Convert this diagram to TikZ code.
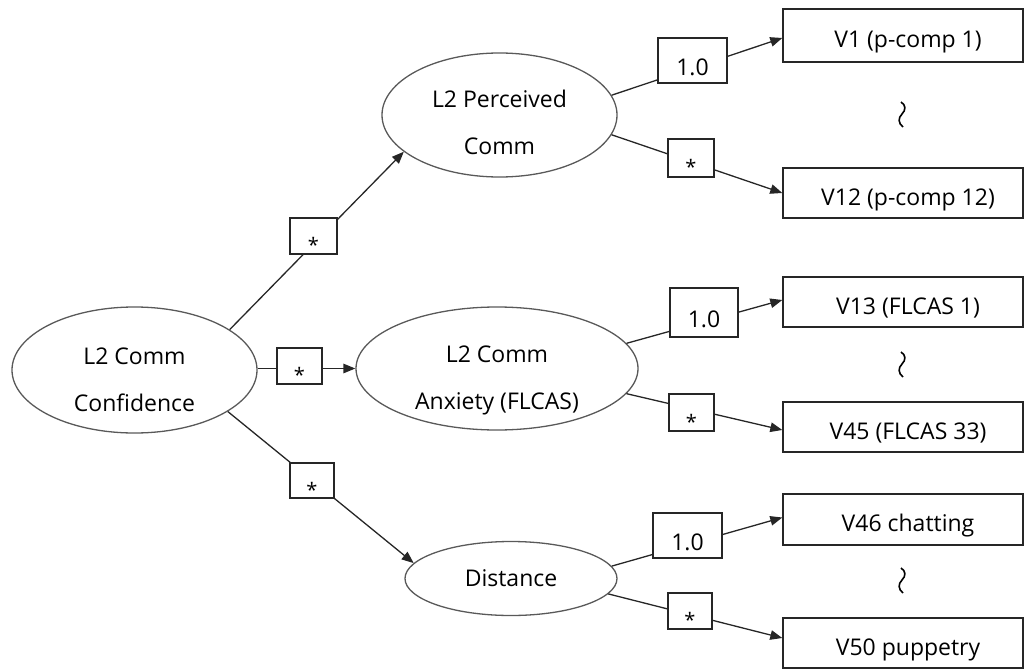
\documentclass[tikz,border=0pt]{standalone}
\usepackage{fontspec}
\setmainfont{Open Sans}
\usetikzlibrary{shapes.geometric,arrows.meta,calc}

% two-line ellipse text: #1 = strut height that sets the vertical offset
\newcommand\twoline[3]{\rule{0pt}{#1pt}#2\\\smash{#3}}

\begin{document}
\begin{tikzpicture}[x=1pt,y=-1pt,
  every node/.style={font=\fontsize{23}{47}\selectfont},
  latent/.style={ellipse, draw=black!65, line width=1.3pt, inner sep=0pt, align=center},
  obsbox/.style={rectangle, draw=black!85, line width=1.4pt, minimum width=240pt,
    inner sep=0pt, text height=24.5pt, text depth=0pt,
    execute at begin node=\hspace*{10pt}},
  coef/.style={rectangle, draw=black!85, fill=white, line width=1.3pt, inner sep=0pt, text depth=0pt},
  one/.style={coef, text height=29.6pt},
  free/.style={coef, text height=33pt, font=\fontsize{20}{24}\selectfont},
  conn/.style={draw=black!85, line width=1.3pt, -{Triangle[length=12pt,width=9.5pt]}},
  squig/.style={draw=black, line width=1.6pt}
]
\useasboundingbox (0,0) rectangle (1025,669);

% latent factors
\node[latent, minimum width=245pt, minimum height=126pt] (conf) at (134.5,370)
  {\twoline{35}{L2 Comm}{Confidence}};
\node[latent, minimum width=235pt, minimum height=124pt] (perc) at (499.5,115)
  {\twoline{31}{L2 Perceived}{Comm}};
\node[latent, minimum width=282pt, minimum height=123pt] (anx) at (497,368.5)
  {\twoline{34}{L2 Comm}{Anxiety (FLCAS)}};
\node[latent, minimum width=212pt, minimum height=74pt] (dist) at (511,578.5) {Distance};

% observed variables
\node[obsbox, minimum height=53pt] (v1)  at (903,35.5)  {V1 (p-comp 1)};
\node[obsbox, minimum height=50pt] (v12) at (903,193)   {V12 (p-comp 12)};
\node[obsbox, minimum height=50pt] (v13) at (903,302)   {V13 (FLCAS 1)};
\node[obsbox, minimum height=50pt] (v45) at (903,427)   {V45 (FLCAS 33)};
\node[obsbox, minimum height=51pt] (v46) at (903,519.5) {V46 chatting};
\node[obsbox, minimum height=50pt] (v50) at (903,643)   {V50 puppetry};

% paths
\draw[conn] (conf.23.2) -- (perc.201.4);
\draw[conn] (anx.west -| conf.east) -- (anx.west);
\draw[conn] (conf.-24.9) -- (dist.171.1);
\draw[conn] (perc.10.3) -- ($(v1.west)+(0,2.5)$);
\draw[conn] (perc.-10) -- (v12.west);
\draw[conn] (anx.11.1) -- ($(v13.west)+(0,-2)$);
\draw[conn] (anx.-11.9) -- ($(v45.west)+(0,3)$);
\draw[conn] (dist.7.9) -- ($(v46.west)+(0,-2)$);
\draw[conn] (dist.-9.7) -- ($(v50.west)+(0,-5)$);

% loadings
\node[free, minimum width=47pt, minimum height=36pt] (c7) at (313.5,236) {*};
\node[free, minimum width=45pt, minimum height=36pt] (c8) at (299.5,366) {*};
\node[free, minimum width=44pt, minimum height=35pt] (c9) at (312,480.5) {*};
\node[one,  minimum width=69pt, minimum height=45pt] (c1) at (692.5,60.5) {1.0};
\node[free, minimum width=46pt, minimum height=38pt] (c2) at (691,158)    {*};
\node[one,  minimum width=68pt, minimum height=49pt] (c3) at (704,312.5)  {1.0};
\node[free, minimum width=45pt, minimum height=37pt] (c4) at (691.5,412.5) {*};
\node[one,  minimum width=69pt, minimum height=45pt] (c5) at (687.5,535.5) {1.0};
\node[free, minimum width=44pt, minimum height=36pt] (c6) at (690,611)    {*};

% ellipsis marks between indicators
\draw[squig] (901,102) .. controls (906,105) and (906,110) .. (902,114)
  .. controls (898,118) and (898,123) .. (903,127);
\draw[squig] (901,352) .. controls (906,355) and (906,360) .. (902,364)
  .. controls (898,368) and (898,373) .. (903,377);
\draw[squig] (901,568) .. controls (906,571) and (906,576) .. (902,580)
  .. controls (898,584) and (898,589) .. (903,593);
\end{tikzpicture}
\end{document}
